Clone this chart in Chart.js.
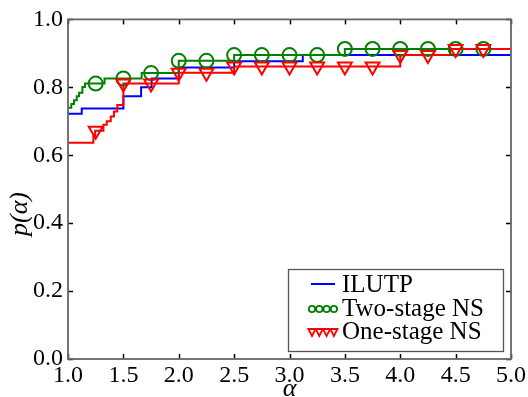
<!DOCTYPE html>
<html><head><meta charset="utf-8">
<script src="https://cdn.jsdelivr.net/npm/chart.js@4/dist/chart.umd.min.js"></script>
<style>html,body{margin:0;padding:0;background:#fff}#wrap{width:528px;height:397px;position:relative}</style>
</head><body><div id="wrap"><canvas id="c" width="528" height="397"></canvas></div>
<script>
// ---- data ----
const seriesNames = ['ILUTP', 'Two-stage NS', 'One-stage NS'];
const xTickValues = [1.0, 1.5, 2.0, 2.5, 3.0, 3.5, 4.0, 4.5, 5.0];
const yTickValues = [0.0, 0.2, 0.4, 0.6, 0.8, 1.0];
const xLabel = 'α';
const yLabel = 'p(α)';

// step-function breakpoints (alpha) and profile values
const ilutpAlpha = [1.0, 1.124, 1.5, 1.66, 1.755, 2.0, 2.5, 3.12, 5.0];
const ilutpP     = [0.722, 0.738, 0.774, 0.80, 0.826, 0.858, 0.877, 0.895, 0.895];

const twoAlpha = [1.0, 1.03, 1.054, 1.079, 1.10, 1.13, 1.153, 1.33, 1.665, 2.0, 2.5, 3.5, 5.0];
const twoP     = [0.740, 0.751, 0.762, 0.774, 0.784, 0.801, 0.811, 0.826, 0.842, 0.878, 0.895, 0.913, 0.913];

const oneAlpha = [1.0, 1.229, 1.245, 1.32, 1.35, 1.386, 1.415, 1.445, 1.50, 2.0, 2.5, 4.0, 4.45, 5.0];
const oneP     = [0.637, 0.656, 0.672, 0.69, 0.70, 0.714, 0.729, 0.748, 0.811, 0.843, 0.861, 0.895, 0.913, 0.913];

// alphas where the curves carry markers
const markerAlpha = [1.25, 1.5, 1.75, 2.0, 2.25, 2.5, 2.75, 3.0, 3.25, 3.5, 3.75, 4.0, 4.25, 4.5, 4.75];

const colors = { blue: '#0000ff', green: '#008000', red: '#ff0000' };
const FONT = '"Liberation Serif", "Times New Roman", serif';

function pts(a, p) { return a.map((v, i) => ({ x: v, y: p[i] })); }
function stepAt(a, p, x) { let v = p[0]; for (let i = 0; i < a.length; i++) { if (a[i] <= x + 1e-9) v = p[i]; } return v; }
function markers(a, p) { return markerAlpha.map(x => ({ x: x, y: stepAt(a, p, x) })); }

const framePlugin = {
  id: 'frame',
  afterDatasetsDraw(chart) {
    const { ctx, chartArea: ca, scales } = chart;
    ctx.save();
    // ticks (inward on all four sides)
    ctx.strokeStyle = '#000'; ctx.lineWidth = 1.5;
    xTickValues.forEach(v => {
      const px = Math.round(scales.x.getPixelForValue(v)) + 0.5;
      ctx.beginPath(); ctx.moveTo(px, ca.bottom); ctx.lineTo(px, ca.bottom - 5); ctx.stroke();
      ctx.beginPath(); ctx.moveTo(px, ca.top); ctx.lineTo(px, ca.top + 5); ctx.stroke();
    });
    yTickValues.forEach(v => {
      const py = Math.round(scales.y.getPixelForValue(v)) + 0.5;
      ctx.beginPath(); ctx.moveTo(ca.left, py); ctx.lineTo(ca.left + 5, py); ctx.stroke();
      ctx.beginPath(); ctx.moveTo(ca.right, py); ctx.lineTo(ca.right - 5, py); ctx.stroke();
    });
    // frame
    ctx.strokeStyle = '#666'; ctx.lineWidth = 1.8;
    ctx.strokeRect(ca.left, ca.top, ca.right - ca.left, ca.bottom - ca.top);

    // legend
    const bx = 288, by = 269, bw = 215, bh = 82;
    ctx.fillStyle = '#fff'; ctx.fillRect(bx, by, bw, bh);
    ctx.strokeStyle = '#555'; ctx.lineWidth = 1.3; ctx.strokeRect(bx + 0.5, by + 0.5, bw, bh);
    const rows = [284, 308, 331];
    const sx0 = 311, sx1 = 335;
    ctx.font = '25px ' + FONT; ctx.fillStyle = '#000'; ctx.textBaseline = 'middle'; ctx.textAlign = 'left';
    // ILUTP line
    ctx.strokeStyle = colors.blue; ctx.lineWidth = 2;
    ctx.beginPath(); ctx.moveTo(sx0, rows[0]); ctx.lineTo(sx1, rows[0]); ctx.stroke();
    // Two-stage circles
    ctx.strokeStyle = colors.green; ctx.lineWidth = 1.8;
    for (let i = 0; i < 4; i++) { ctx.beginPath(); ctx.arc(sx0 + 1 + i * 7.3, rows[1] + 1, 3.2, 0, Math.PI * 2); ctx.stroke(); }
    // One-stage triangles
    ctx.strokeStyle = colors.red; ctx.lineWidth = 1.8;
    for (let i = 0; i < 4; i++) {
      const cx = sx0 + 1 + i * 7.3, cy = rows[2] + 1;
      ctx.beginPath(); ctx.moveTo(cx - 3.6, cy - 3); ctx.lineTo(cx + 3.6, cy - 3); ctx.lineTo(cx, cy + 4); ctx.closePath(); ctx.stroke();
    }
    ctx.fillStyle = '#000';
    seriesNames.forEach((n, i) => ctx.fillText(n, 342, rows[i] + 1));

    // axis titles
    ctx.font = 'italic 26px ' + FONT; ctx.textAlign = 'center'; ctx.textBaseline = 'middle';
    ctx.fillText(xLabel, (ca.left + ca.right) / 2, 389);
    ctx.save(); ctx.translate(20, 214); ctx.rotate(-Math.PI / 2); ctx.fillText(yLabel, 0, 0); ctx.restore();
    ctx.restore();
  }
};

new Chart(document.getElementById('c'), {
  type: 'line',
  data: {
    datasets: [
      { label: seriesNames[1] + ' markers', data: markers(twoAlpha, twoP), showLine: false, pointStyle: 'circle', pointRadius: 7, borderColor: colors.green, backgroundColor: 'rgba(0,0,0,0)', borderWidth: 2, order: 3 },
      { label: seriesNames[2] + ' markers', data: markers(oneAlpha, oneP), showLine: false, pointStyle: 'triangle', rotation: 180, pointRadius: 8, borderColor: colors.red, backgroundColor: 'rgba(0,0,0,0)', borderWidth: 2, order: 2 },
      { label: seriesNames[0], data: pts(ilutpAlpha, ilutpP), stepped: 'before', borderColor: colors.blue, borderWidth: 2, pointRadius: 0, order: 6 },
      { label: seriesNames[1], data: pts(twoAlpha, twoP), stepped: 'before', borderColor: colors.green, borderWidth: 2, pointRadius: 0, order: 5 },
      { label: seriesNames[2], data: pts(oneAlpha, oneP), stepped: 'before', borderColor: colors.red, borderWidth: 2, pointRadius: 0, order: 4 }
    ]
  },
  options: {
    responsive: false, animation: false, devicePixelRatio: 1,
    layout: { padding: { top: 15, right: 17, left: 0, bottom: 0 } },
    plugins: { legend: { display: false }, tooltip: { enabled: false } },
    scales: {
      x: {
        type: 'linear', min: 1, max: 5,
        afterBuildTicks: s => { s.ticks = xTickValues.map(v => ({ value: v })); },
        ticks: { callback: v => v.toFixed(1), font: { family: FONT, size: 24 }, color: '#000', padding: 2, maxRotation: 0 },
        grid: { display: false, drawTicks: false }, border: { display: false },
        afterFit: s => { s.height = 38; }
      },
      y: {
        min: 0, max: 1,
        afterBuildTicks: s => { s.ticks = yTickValues.map(v => ({ value: v })); },
        ticks: { callback: v => v.toFixed(1), font: { family: FONT, size: 24 }, color: '#000', padding: 5 },
        grid: { display: false, drawTicks: false }, border: { display: false },
        afterFit: s => { s.width = 68; }
      }
    }
  },
  plugins: [framePlugin]
});
</script></body></html>
